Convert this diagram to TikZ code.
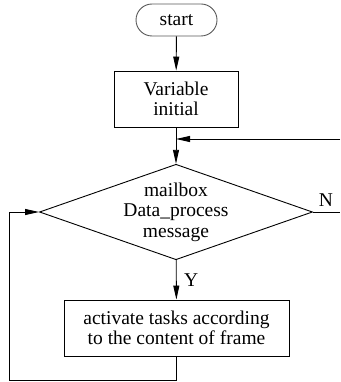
\documentclass[tikz,border=0pt]{standalone}
\usepackage{fontspec}
\setmainfont{Liberation Serif}
\usetikzlibrary{shapes.geometric,arrows.meta}

\begin{document}
\begin{tikzpicture}[x=1pt, y=-1pt, line width=0.9pt,
    every node/.style={font=\fontsize{19.5}{20.5}\selectfont},
    flowarrow/.style={-{Triangle[length=14pt,width=6pt]}},
    terminal/.style={draw=black!65, rounded corners=16pt, minimum width=81pt,
      minimum height=32pt, inner sep=0pt},
    process/.style={draw, minimum height=56pt, inner sep=0pt, align=center},
    decision/.style={draw, diamond, aspect=2.86, minimum width=272pt,
      minimum height=95pt, inner sep=0pt, align=center}]

    \useasboundingbox (0,0) rectangle (340,382);

    %% Nodes
    \node[terminal] (start) at (176.5,20) {start};
    \node[process, minimum width=124pt] (init) at (176,99) {Variable\\initial};
    \node[decision] (dec) at (176,212) {mailbox\\Data\_process\\message};
    \node[process, minimum width=225pt] (act) at (176.5,328)
      {activate tasks according\\to the content of frame};

    %% Free ends
    \coordinate (fb) at (340,139);
    \coordinate (nout) at (340,212);
    \coordinate (lp) at (9,380);

    %% Connectors
    \draw[flowarrow] (start) -- (init);
    \draw[flowarrow] (init) -- (dec);
    \draw[flowarrow] (fb) -- (init.south |- fb);
    \draw (dec.east) -- (nout);
    \node at (326,200) {N};
    \draw[flowarrow] (dec) -- (act) node[midway, right=4pt] {Y};
    \draw[flowarrow] (act.south) |- (lp) |- (dec.west);

  \end{tikzpicture}
\end{document}
